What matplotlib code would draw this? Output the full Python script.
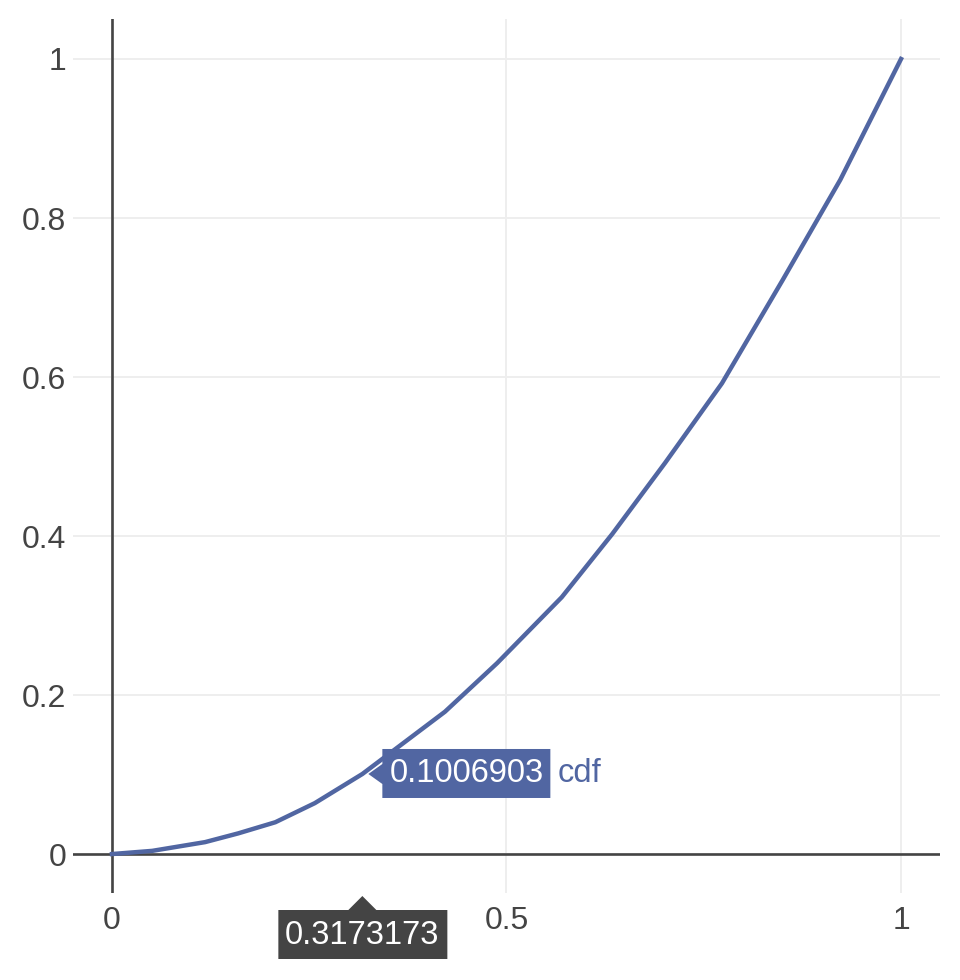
import matplotlib
matplotlib.use("Agg")
from matplotlib import pyplot as plt
from matplotlib.patches import Polygon
from matplotlib.transforms import Affine2D

plt.rcParams['font.family'] = ['Liberation Sans', 'DejaVu Sans']

# values
x_vals = [0, 0.051, 0.118, 0.160, 0.207, 0.257, 0.3173173, 0.422, 0.488,
          0.570, 0.634, 0.701, 0.773, 0.850, 0.923, 1.0]
cdf_vals = [0, 0.004, 0.015, 0.026, 0.040, 0.064, 0.1006903, 0.179, 0.240,
            0.323, 0.4025, 0.492, 0.592, 0.722, 0.848, 1.0]
series_name = "cdf"
hover_x = 0.3173173
hover_y = 0.1006903
x_ticks = [0, 0.5, 1]
x_ticklabels = ["0", "0.5", "1"]
y_ticks = [0, 0.2, 0.4, 0.6, 0.8, 1]
y_ticklabels = ["0", "0.2", "0.4", "0.6", "0.8", "1"]

line_col = '#5166a2'
text_col = '#444444'
W, H = 960, 980

fig = plt.figure(figsize=(W / 100, H / 100), dpi=100)
ax = fig.add_axes([73 / W, 1 - 893 / H, (940 - 73) / W, (893 - 19) / H])

ax.set_xlim(-0.0494, 1.0494)
ax.set_ylim(-0.049, 1.0503)
for s in ax.spines.values():
    s.set_visible(False)

ax.set_xticks(x_ticks)
ax.set_xticklabels(x_ticklabels)
ax.set_yticks(y_ticks)
ax.set_yticklabels(y_ticklabels)
ax.tick_params(length=0, labelsize=23, labelcolor=text_col)
ax.tick_params(axis='y', pad=5)
ax.tick_params(axis='x', pad=9)
ax.grid(True, color='#eeeeee', linewidth=1.4)
ax.set_axisbelow(True)

# zero lines
ax.axhline(0, color=text_col, lw=1.9, zorder=2)
ax.axvline(0, color=text_col, lw=1.9, zorder=2)

ax.plot(x_vals, cdf_vals, color=line_col, lw=3.2, zorder=3, solid_joinstyle='miter')

# hover labels, drawn in pixel offsets from the hovered point
fig.canvas.draw()
px, py = ax.transData.transform((hover_x, hover_y))
bottom_px = ax.transAxes.transform((0, 0))[1]


def pix_poly(pts, ox, oy, color):
    tr = Affine2D().translate(ox, oy)
    p = Polygon(pts, closed=True, facecolor=color, edgecolor='none',
                transform=tr, zorder=10)
    fig.add_artist(p)


# y hover (blue, arrow pointing left)
yl = [(6, 0), (20, 10), (20, 25), (188, 25), (188, -24), (20, -24), (20, -10)]
pix_poly(yl, px, py, line_col)
fig.text((px + 104) / W, (py) / H, "%.7f" % hover_y, color='white',
         fontsize=23.5, ha='center', va='center', zorder=11)
fig.text((px + 195) / W, py / H, series_name, color=line_col,
         fontsize=23.5, ha='left', va='center', zorder=11)

# x hover (dark, arrow pointing up)
tip = bottom_px - 3
xl = [(0, 0), (-14, -14), (-84, -14), (-84, -63), (85, -63), (85, -14), (14, -14)]
pix_poly(xl, px, tip, text_col)
fig.text(px / W, (tip - 39) / H, "%.7f" % hover_x, color='white',
         fontsize=23.5, ha='center', va='center', zorder=11)

fig.savefig("out.png", dpi=100)
